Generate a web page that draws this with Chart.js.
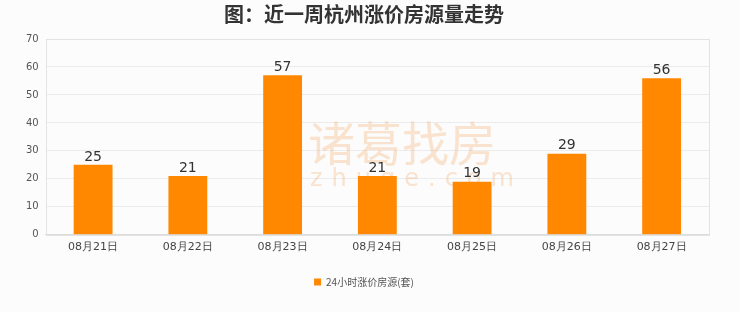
<!DOCTYPE html>
<html>
<head>
<meta charset="utf-8">
<script src="https://cdn.jsdelivr.net/npm/chart.js@4"></script>
<style>
  html, body { margin: 0; padding: 0; background: #fcfcfc; }
  #wrap { width: 740px; height: 312px; }
</style>
</head>
<body>
<div id="wrap"><canvas id="grafico" width="740" height="312"></canvas></div>
<script>
// dados do gráfico
const categorias = ["08月21日", "08月22日", "08月23日", "08月24日", "08月25日", "08月26日", "08月27日"];
const valores = [25, 21, 57, 21, 19, 29, 56];
const nomeSerie = "24小时涨价房源(套)";
const tituloGrafico = "图：近一周杭州涨价房源量走势";
const marcaDagua = "诸葛找房";
const marcaDaguaSite = "zhuge.com";

// marca d'água atrás das barras
const marcaPlugin = {
  id: 'marca',
  beforeDatasetsDraw(chart) {
    const ctx = chart.ctx;
    ctx.save();
    ctx.fillStyle = 'rgba(242, 170, 110, 0.32)';
    ctx.textAlign = 'left';
    ctx.textBaseline = 'middle';
    ctx.font = '47px "Noto Sans CJK SC", sans-serif';
    ctx.fillText(marcaDagua, 308, 143);
    ctx.font = '24px "DejaVu Sans", sans-serif';
    ctx.letterSpacing = '9px';
    ctx.fillText(marcaDaguaSite, 310, 180);
    ctx.restore();
  }
};

// rótulos acima das barras + moldura da área do gráfico
const rotulosPlugin = {
  id: 'rotulos',
  afterDatasetsDraw(chart) {
    const ctx = chart.ctx;
    const area = chart.chartArea;
    ctx.save();
    ctx.strokeStyle = '#e3e3e3';
    ctx.lineWidth = 1;
    ctx.strokeRect(Math.round(area.left) + 0.5, Math.round(area.top) + 0.5,
      Math.round(area.right - area.left), Math.round(area.bottom - area.top));
    ctx.font = '14px "DejaVu Sans", sans-serif';
    ctx.fillStyle = '#333';
    ctx.textAlign = 'center';
    ctx.textBaseline = 'bottom';
    chart.getDatasetMeta(0).data.forEach((bar, i) => {
      ctx.fillText(valores[i], bar.x, bar.y - 1);
    });
    ctx.restore();
  }
};

const ctx = document.getElementById('grafico').getContext('2d');
new Chart(ctx, {
  type: 'bar',
  data: {
    labels: categorias,
    datasets: [{
      label: nomeSerie,
      data: valores,
      backgroundColor: '#ff8800',
      borderWidth: 0,
      categoryPercentage: 1,
      barPercentage: 0.41
    }]
  },
  options: {
    responsive: false,
    animation: false,
    layout: { padding: { left: 19, right: 31, top: 0, bottom: 15 } },
    plugins: {
      title: {
        display: true,
        text: tituloGrafico,
        color: '#333',
        font: { family: '"Noto Sans CJK SC", sans-serif', size: 20, weight: 'bold' },
        padding: { top: 2, bottom: 13 }
      },
      legend: {
        position: 'bottom',
        labels: {
          boxWidth: 7,
          boxHeight: 7,
          color: '#555',
          font: { family: '"Noto Sans CJK SC", sans-serif', size: 10 },
          padding: 25
        }
      },
      tooltip: { enabled: false }
    },
    scales: {
      x: {
        grid: { display: false },
        border: { color: '#dcdcdc' },
        ticks: { color: '#444', font: { family: '"DejaVu Sans", sans-serif', size: 11 }, padding: -2 }
      },
      y: {
        min: 0,
        max: 70,
        ticks: { stepSize: 10, color: '#555', font: { family: '"DejaVu Sans", sans-serif', size: 10 }, padding: 7 },
        grid: { color: '#ececec', drawTicks: false },
        border: { display: false }
      }
    }
  },
  plugins: [marcaPlugin, rotulosPlugin]
});
</script>
</body>
</html>
